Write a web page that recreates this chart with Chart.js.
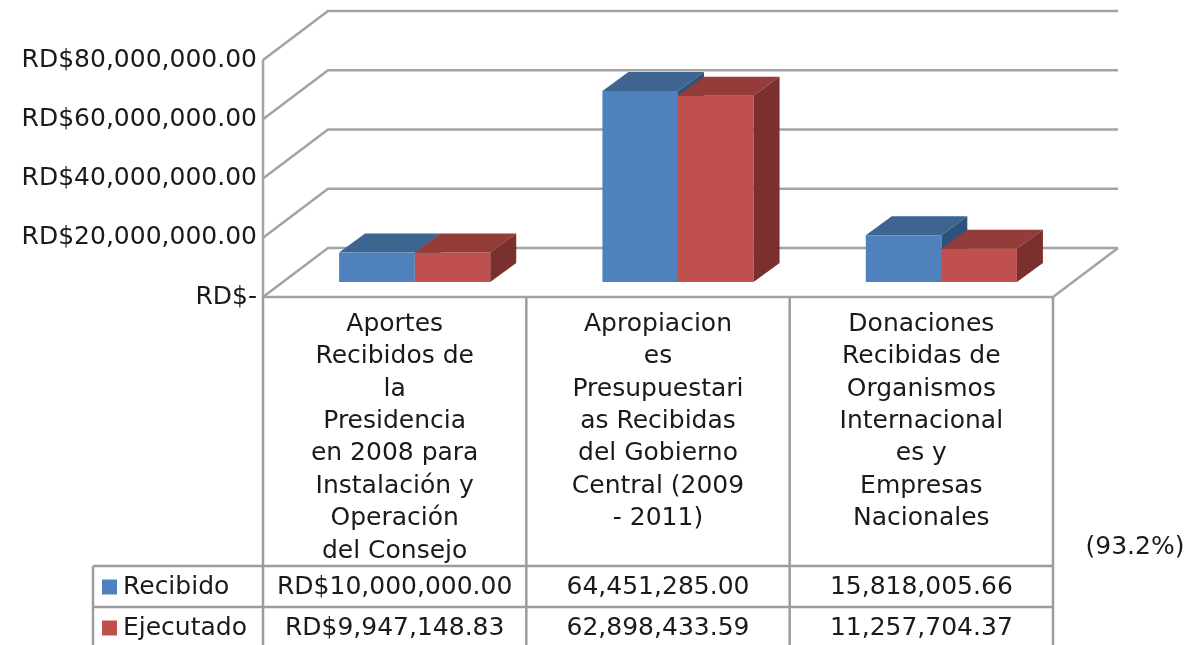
<!DOCTYPE html>
<html lang="es">
<head>
<meta charset="utf-8">
<title>Recibido vs Ejecutado</title>
<script src="https://cdn.jsdelivr.net/npm/chart.js@4.4.1/dist/chart.umd.min.js"></script>
<style>
  html, body { margin: 0; padding: 0; background: #fff; overflow: hidden; }
  #chart { display: block; }
</style>
</head>
<body>
<canvas id="chart" width="1198" height="645"></canvas>
<script>
// datos del grafico
const categories = [
  ['Aportes', 'Recibidos de', 'la', 'Presidencia', 'en 2008 para', 'Instalación y', 'Operación', 'del Consejo'],
  ['Apropiacion', 'es', 'Presupuestari', 'as Recibidas', 'del Gobierno', 'Central (2009', '- 2011)'],
  ['Donaciones', 'Recibidas de', 'Organismos', 'Internacional', 'es y', 'Empresas', 'Nacionales']
];
const recibido = [10000000.00, 64451285.00, 15818005.66];
const ejecutado = [9947148.83, 62898433.59, 11257704.37];
const seriesNames = ['Recibido', 'Ejecutado'];
const valuePrefix = ['RD$', '', ''];
const yTicks = [0, 20000000, 40000000, 60000000, 80000000];
const note = '(93.2%)';

const FONT = 'DejaVu Sans';
const FONT_SIZE = 25;
const TEXT = '#1a1a1a';
const COLORS = [
  { front: '#4F81BD', top: '#3D6590', side: '#2F527A' },
  { front: '#C0504D', top: '#933C3A', side: '#7A302E' }
];
// desplazamientos de la perspectiva respecto al plano de las barras
const FRONT = { dx: -20, dy: 15 };
const BACK = { dx: 45, dy: -34 };
const BAR = { dx: 26, dy: -19 };

function fmtMoney(v) {
  return v.toLocaleString('en-US', { minimumFractionDigits: 2, maximumFractionDigits: 2 });
}

function drawBarFaces(chart, dsIndex) {
  const ctx = chart.ctx;
  const meta = chart.getDatasetMeta(dsIndex);
  const c = COLORS[dsIndex];
  meta.data.forEach((bar) => {
    const left = bar.x - bar.width / 2;
    const right = bar.x + bar.width / 2;
    const top = bar.y;
    const base = bar.base;
    // cara superior
    ctx.fillStyle = c.top;
    ctx.beginPath();
    ctx.moveTo(left, top);
    ctx.lineTo(left + BAR.dx, top + BAR.dy);
    ctx.lineTo(right + BAR.dx, top + BAR.dy);
    ctx.lineTo(right, top);
    ctx.closePath();
    ctx.fill();
    // cara lateral
    ctx.fillStyle = c.side;
    ctx.beginPath();
    ctx.moveTo(right, top);
    ctx.lineTo(right + BAR.dx, top + BAR.dy);
    ctx.lineTo(right + BAR.dx, base + BAR.dy);
    ctx.lineTo(right, base);
    ctx.closePath();
    ctx.fill();
  });
}

const box3d = {
  id: 'box3d',
  beforeDatasetsDraw(chart) {
    const ctx = chart.ctx;
    const ca = chart.chartArea;
    const ys = chart.scales.y;
    ctx.save();
    ctx.strokeStyle = '#a3a3a3';
    ctx.lineWidth = 2.5;
    yTicks.forEach((v) => {
      const y = ys.getPixelForValue(v);
      ctx.beginPath();
      ctx.moveTo(ca.left + FRONT.dx, y + FRONT.dy);
      ctx.lineTo(ca.left + BACK.dx, y + BACK.dy);
      ctx.lineTo(ca.right + BACK.dx, y + BACK.dy);
      ctx.stroke();
    });
    // piso
    const y0 = ys.getPixelForValue(0);
    ctx.beginPath();
    ctx.moveTo(ca.right + BACK.dx, y0 + BACK.dy);
    ctx.lineTo(ca.right + FRONT.dx, y0 + FRONT.dy);
    ctx.lineTo(ca.left + FRONT.dx, y0 + FRONT.dy);
    ctx.stroke();
    // pared izquierda
    ctx.beginPath();
    ctx.moveTo(ca.left + FRONT.dx, ys.getPixelForValue(yTicks[yTicks.length - 1]) + FRONT.dy);
    ctx.lineTo(ca.left + FRONT.dx, y0 + FRONT.dy);
    ctx.stroke();
    // barras de la primera serie (quedan detras)
    drawBarFaces(chart, 0);
    ctx.restore();
  },
  afterDatasetsDraw(chart) {
    chart.ctx.save();
    drawBarFaces(chart, 1);
    chart.ctx.restore();
  },
  afterDraw(chart) {
    const ctx = chart.ctx;
    const ca = chart.chartArea;
    const ys = chart.scales.y;
    const xs = chart.scales.x;
    const H = chart.height;
    const yFloor = ys.getPixelForValue(0) + FRONT.dy;
    const colW = ca.width / categories.length;
    const edges = [];
    for (let i = 0; i <= categories.length; i++) edges.push(ca.left + FRONT.dx + i * colW);
    const tableLeft = 93;
    const rowTops = [566, 607, 648];

    ctx.save();
    ctx.strokeStyle = '#9c9c9c';
    ctx.lineWidth = 2.5;
    // columnas
    edges.forEach((x) => {
      ctx.beginPath();
      ctx.moveTo(x, yFloor);
      ctx.lineTo(x, H);
      ctx.stroke();
    });
    // filas
    rowTops.forEach((y) => {
      ctx.beginPath();
      ctx.moveTo(tableLeft, y);
      ctx.lineTo(edges[edges.length - 1], y);
      ctx.stroke();
    });
    ctx.beginPath();
    ctx.moveTo(tableLeft, rowTops[0]);
    ctx.lineTo(tableLeft, H);
    ctx.stroke();

    ctx.font = FONT_SIZE + 'px "' + FONT + '"';
    ctx.fillStyle = TEXT;
    ctx.textBaseline = 'middle';
    const series = [recibido, ejecutado];
    series.forEach((vals, r) => {
      const yc = (rowTops[r] + rowTops[r + 1]) / 2 + 1;
      // leyenda
      ctx.fillStyle = COLORS[r].front;
      ctx.fillRect(102, yc - 8, 15, 15);
      ctx.fillStyle = TEXT;
      ctx.textAlign = 'left';
      ctx.fillText(seriesNames[r], 123, yc);
      // valores
      ctx.textAlign = 'center';
      vals.forEach((v, i) => {
        const xc = xs.getPixelForValue(i) + FRONT.dx;
        ctx.fillText(valuePrefix[i] + fmtMoney(v), xc, yc);
      });
    });
    ctx.textAlign = 'center';
    ctx.fillText(note, 1135, 547);
    ctx.restore();
  }
};

new Chart(document.getElementById('chart'), {
  type: 'bar',
  data: {
    labels: categories,
    datasets: [
      { label: seriesNames[0], data: recibido, backgroundColor: COLORS[0].front, borderWidth: 0 },
      { label: seriesNames[1], data: ejecutado, backgroundColor: COLORS[1].front, borderWidth: 0 }
    ]
  },
  options: {
    responsive: false,
    animation: false,
    events: [],
    layout: { padding: { top: 45, right: 125, left: 0, bottom: 0 } },
    datasets: { bar: { categoryPercentage: 0.574, barPercentage: 1 } },
    plugins: { legend: { display: false }, tooltip: { enabled: false } },
    scales: {
      x: {
        grid: { display: false, drawTicks: false },
        border: { display: false },
        ticks: {
          autoSkip: false, maxRotation: 0, minRotation: 0,
          padding: 26, labelOffset: FRONT.dx,
          color: TEXT,
          font: { family: FONT, size: FONT_SIZE, lineHeight: 1.296 }
        },
        afterFit: (s) => { s.height = 363; }
      },
      y: {
        min: 0, max: 80000000,
        grid: { display: false, drawTicks: false },
        border: { display: false },
        afterBuildTicks: (s) => { s.ticks = yTicks.map((v) => ({ value: v })); },
        ticks: {
          padding: 26, labelOffset: FRONT.dy,
          color: TEXT,
          font: { family: FONT, size: FONT_SIZE },
          callback: (v) => (v === 0 ? 'RD$-' : 'RD$' + fmtMoney(v))
        },
        afterFit: (s) => { s.width = 283; }
      }
    }
  },
  plugins: [box3d]
});
</script>
</body>
</html>
